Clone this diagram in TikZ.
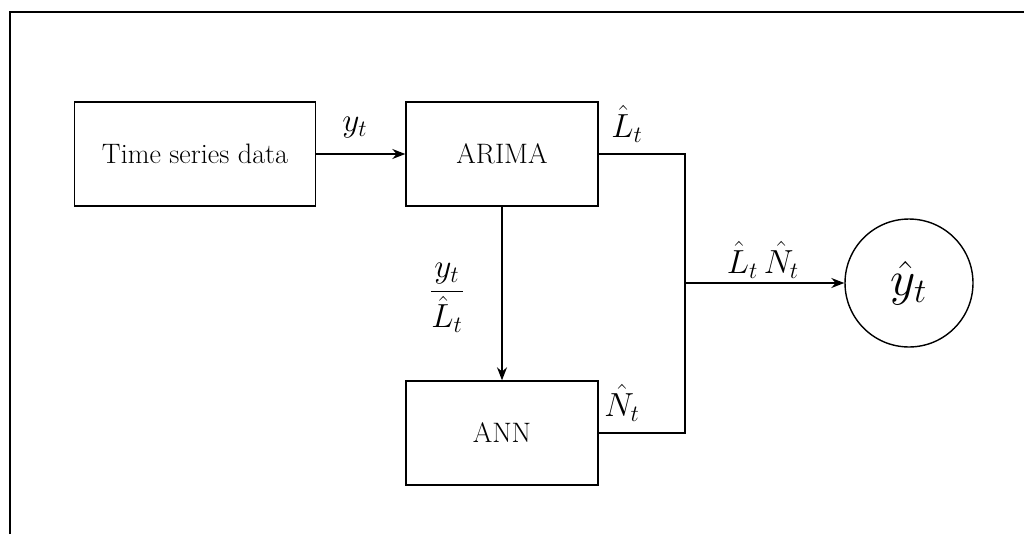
\RequirePackage{fix-cm}
\documentclass[tikz,border=0pt]{standalone}
\usepackage{amsmath}
\usepackage{tikz}
\usetikzlibrary{arrows.meta,positioning,calc,shapes}
\tikzset{%
  block/.style={%
    draw,
    line width=0.8pt,
    minimum height=2.08cm,
    font=\fontsize{16}{19}\selectfont
  }
}
\tikzset{%
  signal/.style={%
    line width=0.8pt,
    -{Stealth[length=0.26cm,width=0.2cm]}
  }
}
\tikzset{%
  wire/.style={%
    line width=0.8pt
  }
}
\tikzset{%
  sig label/.style={%
    font=\fontsize{19}{23}\selectfont
  }
}
\begin{document}
\begin{tikzpicture}[x=0.02cm,y=-0.02cm]
  \useasboundingbox (0,0) rectangle (1024,534);
  \draw [line width=0.8pt] (10,534) -- (10,12) -- (1024,12);
  \node [block,minimum width=4.82cm] (data) at (195,154) {Time series data};
  \node [block,minimum width=3.84cm] (arima) at (502,154) {ARIMA};
  \node [block,minimum width=3.84cm] (ann) at (502,433) {ANN};
  \node [draw,circle,line width=0.8pt,minimum size=2.56cm,font=\fontsize{28}{32}\selectfont] (yhat) at (909,283) {$\hat{y}_t$};
  \coordinate (merge) at (685,283);
  \draw [signal] (data.east) -- (arima.west);
  \draw [signal] (arima.south) -- (ann.north);
  \draw [wire] (arima.east) -| (merge);
  \draw [wire] (ann.east) -| (merge);
  \draw [signal] (merge) -- (yhat.west);
  \node [sig label] (ylab) at (355,128) {$y_t$};
  \node [sig label] (llab) at (627,124) {$\hat{L}_t$};
  \node [sig label] (ratio) at (447,298) {$\dfrac{y_t}{\hat{L}_t}$};
  \node [sig label] (nlab) at (622,403) {$\hat{N}_t$};
  \node [sig label] (prod) at (763,260) {$\hat{L}_t\,\hat{N}_t$};
\end{tikzpicture}
\end{document}
